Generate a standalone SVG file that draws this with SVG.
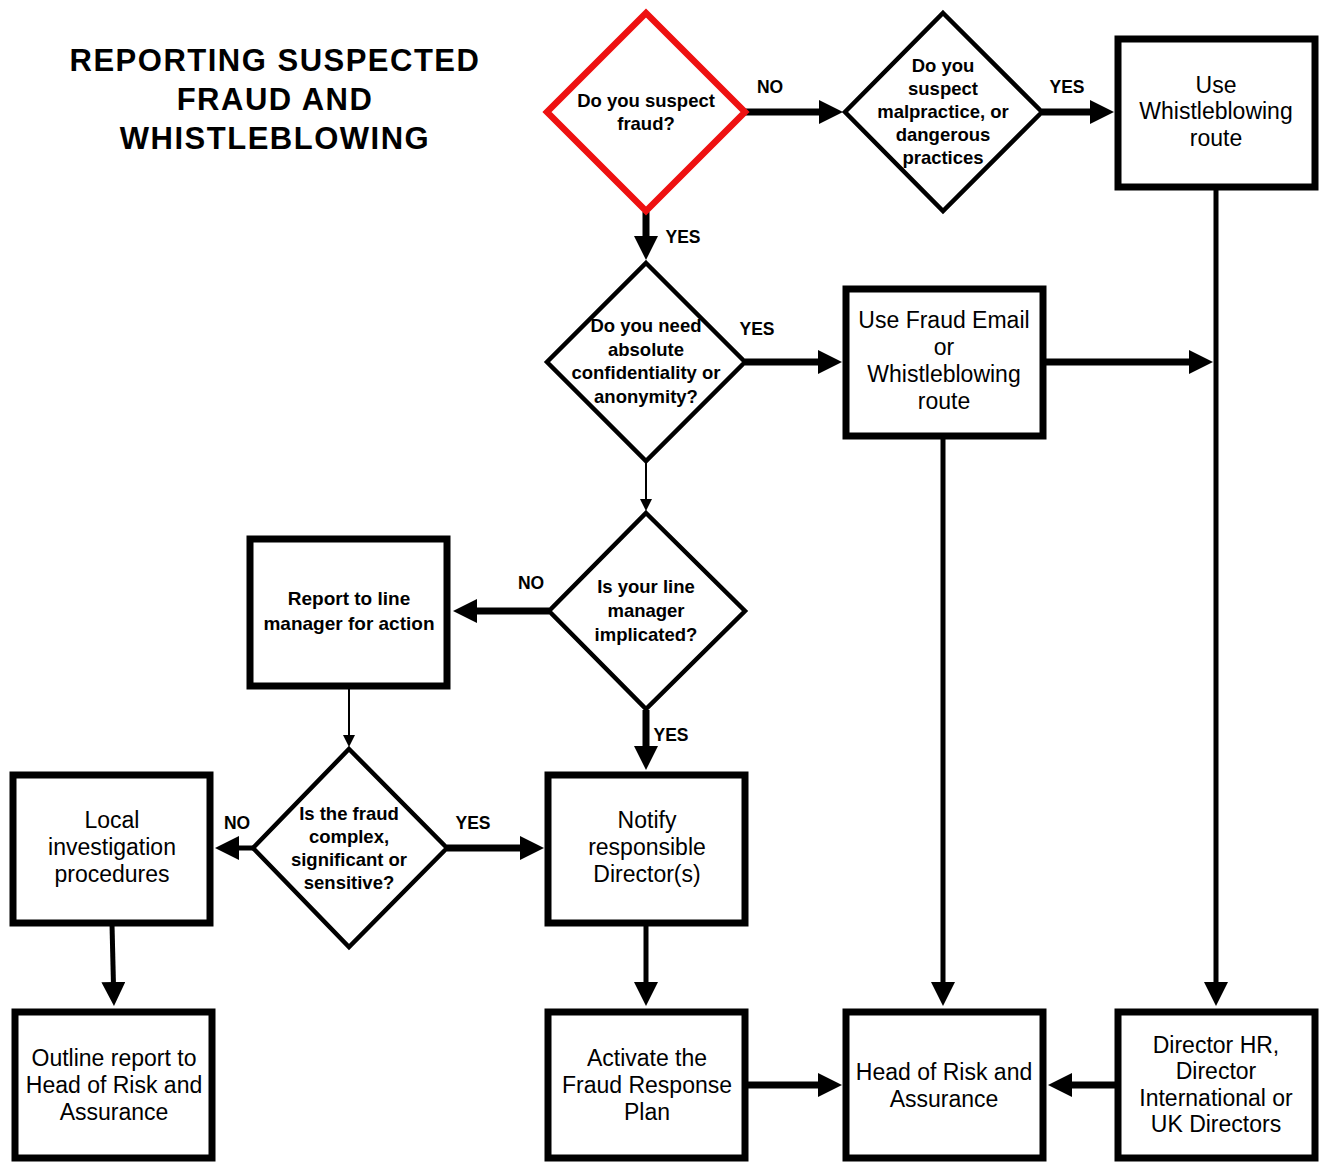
<svg xmlns="http://www.w3.org/2000/svg" width="1324" height="1162" viewBox="0 0 1324 1162">
<defs>
<style>
.box{fill:#fff;stroke:#000;stroke-width:7}
.dia{fill:#fff;stroke:#000;stroke-width:4.5;stroke-linejoin:miter}
.dia-red{fill:#fff;stroke:#ee1111;stroke-width:6.5;stroke-linejoin:miter}
.thick{stroke:#000;stroke-width:7;fill:none}
.mid{stroke:#000;stroke-width:5;fill:none}
.thin{stroke:#000;stroke-width:2;fill:none}
.title{font-family:"Liberation Sans",Arial,sans-serif;font-weight:bold;font-size:31px;letter-spacing:1.5px;text-anchor:middle;fill:#000}
.bt{font-family:"Liberation Sans",Arial,sans-serif;font-size:23px;text-anchor:middle;fill:#000}
.dt{font-family:"Liberation Sans",Arial,sans-serif;font-weight:bold;font-size:18.5px;text-anchor:middle;fill:#000}
.rt{font-family:"Liberation Sans",Arial,sans-serif;font-weight:bold;font-size:19px;text-anchor:middle;fill:#000}
.lbl{font-family:"Liberation Sans",Arial,sans-serif;font-weight:bold;font-size:17.5px;text-anchor:middle;fill:#000}
</style>
<marker id="ah" markerUnits="userSpaceOnUse" markerWidth="24" markerHeight="24" viewBox="0 0 24 24" refX="4" refY="12" orient="auto"><path d="M0,0 L24,12 L0,24 z" fill="#000"/></marker>
<marker id="ahs" markerUnits="userSpaceOnUse" markerWidth="12" markerHeight="12" viewBox="0 0 12 12" refX="2" refY="6" orient="auto"><path d="M0,0 L12,6 L0,12 z" fill="#000"/></marker>
</defs>
<rect width="1324" height="1162" fill="#fff"/>
<g id="title">
<text class="title" x="275" y="71">REPORTING SUSPECTED</text>
<text class="title" x="275" y="110">FRAUD AND</text>
<text class="title" x="275" y="149">WHISTLEBLOWING</text>
</g>
<g id="connectors">
<line class="thick" x1="745" y1="112" x2="823" y2="112" marker-end="url(#ah)"/>
<line class="thick" x1="1042" y1="112" x2="1094" y2="112" marker-end="url(#ah)"/>
<line class="thick" x1="646" y1="212" x2="646" y2="240" marker-end="url(#ah)"/>
<line class="thick" x1="745" y1="362" x2="822" y2="362" marker-end="url(#ah)"/>
<line class="thick" x1="1045" y1="362" x2="1193" y2="362" marker-end="url(#ah)"/>
<line class="mid" x1="1216" y1="188" x2="1216" y2="986" marker-end="url(#ah)"/>
<line class="mid" x1="943" y1="438" x2="943" y2="986" marker-end="url(#ah)"/>
<line class="thin" x1="646" y1="462" x2="646" y2="501" marker-end="url(#ahs)"/>
<line class="thick" x1="549" y1="611" x2="473" y2="611" marker-end="url(#ah)"/>
<line class="thick" x1="646" y1="710" x2="646" y2="750" marker-end="url(#ah)"/>
<line class="thin" x1="349" y1="688" x2="349" y2="737" marker-end="url(#ahs)"/>
<line class="mid" x1="253" y1="848" x2="235" y2="848" marker-end="url(#ah)"/>
<line class="thick" x1="447" y1="848" x2="524" y2="848" marker-end="url(#ah)"/>
<line class="mid" x1="112" y1="924" x2="113.5" y2="986" marker-end="url(#ah)"/>
<line class="mid" x1="646" y1="924" x2="646" y2="986" marker-end="url(#ah)"/>
<line class="thick" x1="747" y1="1085" x2="822" y2="1085" marker-end="url(#ah)"/>
<line class="thick" x1="1117" y1="1085" x2="1068" y2="1085" marker-end="url(#ah)"/>
<text class="lbl" x="770" y="93">NO</text>
<text class="lbl" x="1067" y="93">YES</text>
<text class="lbl" x="683" y="243">YES</text>
<text class="lbl" x="757" y="335">YES</text>
<text class="lbl" x="531" y="589">NO</text>
<text class="lbl" x="671" y="741">YES</text>
<text class="lbl" x="237" y="829">NO</text>
<text class="lbl" x="473" y="829">YES</text>
</g>
<g id="d-fraud">
<polygon class="dia-red" points="646,13 745,112 646,211 547,112"/>
<text class="dt" x="646" y="107">Do you suspect</text>
<text class="dt" x="646" y="130">fraud?</text>
</g>
<g id="d-malpractice">
<polygon class="dia" points="943,13 1042,112 943,211 845,112"/>
<text class="dt" x="943" y="72">Do you</text>
<text class="dt" x="943" y="95">suspect</text>
<text class="dt" x="943" y="118">malpractice, or</text>
<text class="dt" x="943" y="141">dangerous</text>
<text class="dt" x="943" y="164">practices</text>
</g>
<g id="b-whistle">
<rect class="box" x="1118" y="39" width="197" height="148"/>
<text class="bt" x="1216" y="93">Use</text>
<text class="bt" x="1216" y="119">Whistleblowing</text>
<text class="bt" x="1216" y="146">route</text>
</g>
<g id="d-confidential">
<polygon class="dia" points="646,263 745,362 646,461 547,362"/>
<text class="dt" x="646" y="332">Do you need</text>
<text class="dt" x="646" y="356">absolute</text>
<text class="dt" x="646" y="379">confidentiality or</text>
<text class="dt" x="646" y="403">anonymity?</text>
</g>
<g id="b-fraudemail">
<rect class="box" x="846" y="289" width="197" height="147"/>
<text class="bt" x="944" y="328">Use Fraud Email</text>
<text class="bt" x="944" y="355">or</text>
<text class="bt" x="944" y="382">Whistleblowing</text>
<text class="bt" x="944" y="409">route</text>
</g>
<g id="d-linemanager">
<polygon class="dia" points="646,513 745,611 646,709 549,611"/>
<text class="dt" x="646" y="593">Is your line</text>
<text class="dt" x="646" y="617">manager</text>
<text class="dt" x="646" y="641">implicated?</text>
</g>
<g id="b-report">
<rect class="box" x="250" y="539" width="197" height="147"/>
<text class="rt" x="349" y="605">Report to line</text>
<text class="rt" x="349" y="630">manager for action</text>
</g>
<g id="d-complex">
<polygon class="dia" points="349,749 447,848 349,947 253,848"/>
<text class="dt" x="349" y="820">Is the fraud</text>
<text class="dt" x="349" y="843">complex,</text>
<text class="dt" x="349" y="866">significant or</text>
<text class="dt" x="349" y="889">sensitive?</text>
</g>
<g id="b-local">
<rect class="box" x="13" y="775" width="197" height="148"/>
<text class="bt" x="112" y="828">Local</text>
<text class="bt" x="112" y="855">investigation</text>
<text class="bt" x="112" y="882">procedures</text>
</g>
<g id="b-notify">
<rect class="box" x="548" y="775" width="197" height="148"/>
<text class="bt" x="647" y="828">Notify</text>
<text class="bt" x="647" y="855">responsible</text>
<text class="bt" x="647" y="882">Director(s)</text>
</g>
<g id="b-outline">
<rect class="box" x="15" y="1012" width="197" height="146"/>
<text class="bt" x="114" y="1066">Outline report to</text>
<text class="bt" x="114" y="1093">Head of Risk and</text>
<text class="bt" x="114" y="1120">Assurance</text>
</g>
<g id="b-activate">
<rect class="box" x="548" y="1012" width="197" height="146"/>
<text class="bt" x="647" y="1066">Activate the</text>
<text class="bt" x="647" y="1093">Fraud Response</text>
<text class="bt" x="647" y="1120">Plan</text>
</g>
<g id="b-head">
<rect class="box" x="846" y="1012" width="197" height="146"/>
<text class="bt" x="944" y="1080">Head of Risk and</text>
<text class="bt" x="944" y="1107">Assurance</text>
</g>
<g id="b-director">
<rect class="box" x="1118" y="1012" width="197" height="146"/>
<text class="bt" x="1216" y="1053">Director HR,</text>
<text class="bt" x="1216" y="1079">Director</text>
<text class="bt" x="1216" y="1106">International or</text>
<text class="bt" x="1216" y="1132">UK Directors</text>
</g>
</svg>
